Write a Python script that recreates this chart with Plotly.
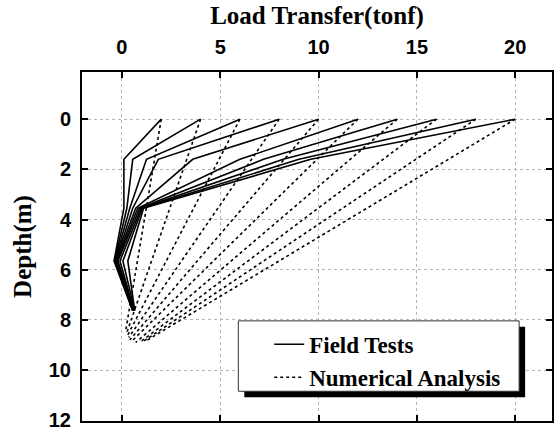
import plotly.graph_objects as go

# ---- data ----
loads = [2, 4, 6, 8, 10, 12, 14, 16, 18, 20]          # applied load at head (tonf)
field_depths = [0, 1.6, 3.55, 5.65, 7.63]              # gauge depths (m)
field_x = [
    [2, 0.10, 0.10, -0.40, 0.55],
    [4, 0.55, 0.25, -0.38, 0.55],
    [6, 1.25, 0.40, -0.35, 0.55],
    [8, 1.85, 0.55, -0.32, 0.58],
    [10, 3.60, 0.70, -0.30, 0.60],
    [12, 6.00, 0.80, -0.25, 0.60],
    [14, 7.20, 0.90, -0.20, 0.62],
    [16, 8.20, 0.98, -0.10, 0.62],
    [18, 9.00, 1.04, 0.05, 0.65],
    [20, 9.60, 1.10, 0.30, 0.65],
]
num_end_x = [0.20, 0.25, 0.30, 0.35, 0.40, 0.50, 0.70, 0.90, 1.10, 1.30]
num_end_depth = [8.40, 8.50, 8.60, 8.70, 8.80, 8.85, 8.90, 8.90, 8.85, 8.80]

x_ticks = [0, 5, 10, 15, 20]
y_ticks = [0, 2, 4, 6, 8, 10, 12]

W, H = 555, 432
ML, MR, MT, MB = 82, 1, 72, 8
PW, PH = W - ML - MR, H - MT - MB


def px_x(p):
    return (p - ML) / PW


def px_y(p):
    return (H - MB - p) / PH


fig = go.Figure()

for i, L in enumerate(loads):
    fig.add_trace(go.Scatter(
        x=[L, num_end_x[i]], y=[0, num_end_depth[i]], mode="lines",
        line=dict(color="black", width=1.6, dash="3px,3px"),
        name="Numerical Analysis", legendgroup="num", showlegend=(i == 0),
        legendrank=2,
    ))

for i, L in enumerate(loads):
    fig.add_trace(go.Scatter(
        x=field_x[i], y=field_depths, mode="lines",
        line=dict(color="black", width=1.6),
        name="Field Tests", legendgroup="field", showlegend=(i == 0),
        legendrank=1,
    ))

# legend box with drop shadow
fig.add_shape(type="rect", xref="paper", yref="paper",
              x0=px_x(245), x1=px_x(527), y0=px_y(400), y1=px_y(329),
              fillcolor="black", line=dict(width=0), layer="above")
fig.add_shape(type="rect", xref="paper", yref="paper",
              x0=px_x(239), x1=px_x(521), y0=px_y(394), y1=px_y(323),
              fillcolor="white", line=dict(color="#333", width=1), layer="above")

tick_font = dict(family="Liberation Sans, Arial", size=20, color="black", weight="bold")
title_font = dict(family="Liberation Serif, Times New Roman", size=25, color="black")

fig.update_layout(
    width=W, height=H, autosize=False,
    margin=dict(l=ML, r=MR, t=MT, b=MB),
    paper_bgcolor="white", plot_bgcolor="white",
    font=dict(family="Liberation Serif", color="black"),
    showlegend=True,
    legend=dict(
        x=px_x(270), y=px_y(325), xanchor="left", yanchor="top",
        bgcolor="rgba(0,0,0,0)", borderwidth=0,
        font=dict(family="Liberation Serif, Times New Roman", size=23, color="black", weight="bold"),
        tracegroupgap=0, traceorder="normal",
    ),
    xaxis=dict(
        range=[-2.03, 21.87], side="top",
        tickvals=x_ticks, ticktext=[str(v) for v in x_ticks],
        ticks="inside", ticklen=6, tickwidth=2, tickcolor="black",
        showline=True, linewidth=2, linecolor="black", mirror="ticks",
        showgrid=True, gridcolor="#b5b5b5", griddash="dot", gridwidth=1,
        zeroline=False,
        tickfont=tick_font,
        ticklabelstandoff=8,
        title=dict(text="<b>Load Transfer(tonf)</b>", font=title_font, standoff=4),
    ),
    yaxis=dict(
        range=[12.03, -1.88],
        tickvals=y_ticks, ticktext=[str(v) for v in y_ticks],
        ticks="inside", ticklen=6, tickwidth=2, tickcolor="black",
        showline=True, linewidth=2, linecolor="black", mirror="ticks",
        showgrid=True, gridcolor="#b5b5b5", griddash="dot", gridwidth=1,
        zeroline=False,
        tickfont=tick_font,
        ticklabelstandoff=5,
        ticklabeloverflow="allow",
        title=dict(text="<b>Depth(m)</b>", font=title_font, standoff=10),
    ),
)

fig.write_html("out.html")
